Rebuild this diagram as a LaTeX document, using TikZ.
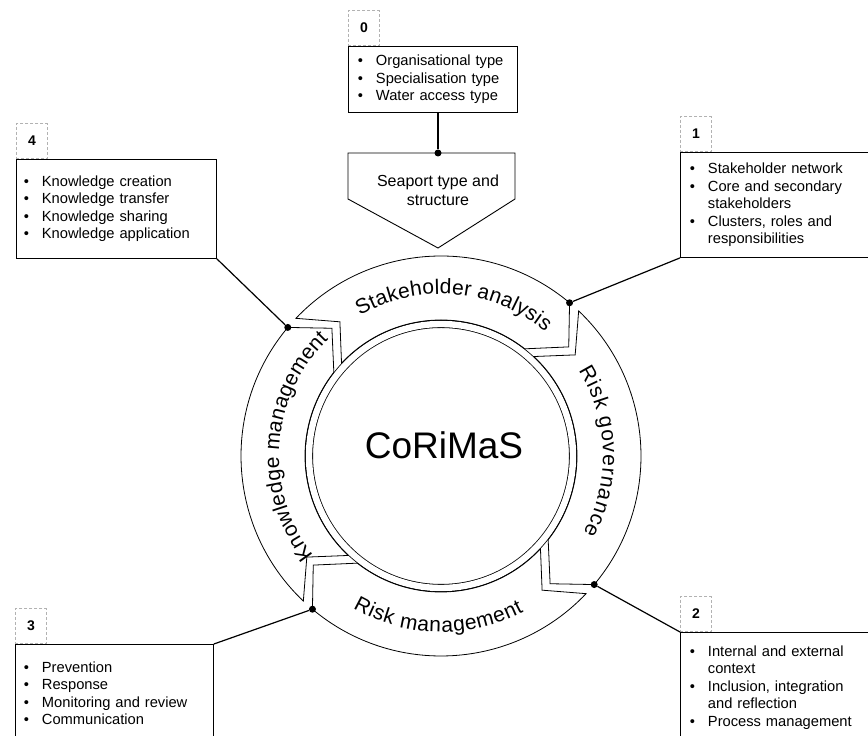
\documentclass[tikz,border=0pt]{standalone}
\usepackage{fontspec}
\setmainfont{Liberation Sans}
\usetikzlibrary{positioning,decorations.text}
\newcommand{\bul}{\makebox[18pt][l]{\textbullet}}
\newcommand{\indt}{\hspace*{18pt}}
\begin{document}
\begin{tikzpicture}[x=1pt, y=1pt,
  infobox/.style={draw, line width=0.9pt, rectangle, anchor=north west, align=left, inner ysep=0pt, font=\fontsize{14.7}{17.5}\selectfont},
  numbox/.style={draw=gray!60, dash pattern=on 3pt off 2pt, line width=0.8pt, minimum width=31pt, minimum height=35pt, inner sep=0pt, font=\fontsize{14}{14}\selectfont\bfseries},
  dotnode/.style={circle, fill=black, inner sep=0pt, minimum size=7pt},
  link/.style={line width=1.2pt},
  ring/.style={line width=0.8pt},
  ringtext/.style={decorate, decoration={text along path, text align=fit to path, text={|\fontsize{21}{21}\selectfont|#1}}}]
  \useasboundingbox (0,0) rectangle (868,736);
  \clip (0,0) rectangle (868,736);
  \coordinate (ctr) at (441,280);
  % Boxes
  \node[infobox, text width=150pt, inner xsep=9.5pt, minimum height=66pt] at (348,690) (box0) {\bul Organisational type\\ \bul Specialisation type\\ \bul Water access type};
  \node[infobox, text width=181pt, inner xsep=9.5pt, minimum height=105pt] at (680,584) (box1) {\bul Stakeholder network\\ \bul Core and secondary\\ \indt stakeholders\\ \bul Clusters, roles and\\ \indt responsibilities};
  \node[infobox, text width=181pt, inner xsep=9.5pt, minimum height=110pt] at (680,104) (box2) {\bul Internal and external\\ \indt context\\ \bul Inclusion, integration\\ \indt and reflection\\ \bul Process management};
  \node[infobox, text width=181pt, inner xsep=8.5pt, minimum height=98pt] at (15,92) (box3) {\bul Prevention\\ \bul Response\\ \bul Monitoring and review\\ \bul Communication};
  \node[infobox, text width=185pt, inner xsep=7.5pt, minimum height=99pt] at (16,577) (box4) {\bul Knowledge creation\\ \bul Knowledge transfer\\ \bul Knowledge sharing\\ \bul Knowledge application};
  % Numbers
  \node[numbox, above right=0pt and 0pt of box0.north west] (num0) {0};
  \node[numbox, above right=0pt and 0pt of box1.north west] (num1) {1};
  \node[numbox, above right=0pt and 0pt of box2.north west] (num2) {2};
  \node[numbox, above right=0pt and 0pt of box3.north west] (num3) {3};
  \node[numbox, above right=0pt and 0pt of box4.north west] (num4) {4};
  % Seaport
  \draw[line width=0.9pt] (348,583) -- (515,583) -- (515,537) -- (438,488) -- (348,537) -- cycle;
  \node[align=center, font=\fontsize{16}{19}\selectfont] at (438,546) (seaport) {Seaport type and\\structure};
  % Ring
  \draw[ring, double, double distance=6.4pt] (ctr) circle[radius=132];
  \foreach \t/\h in {136.5/50, 46.5/-40, -43.5/-130, -133.5/-220}
    \draw[ring] ([shift={(\t:200)}]ctr) arc[start angle=\t, end angle=\h, radius=200]
      -- ([shift={({\h-9.5}:168)}]ctr) -- ([shift={({\h+2}:136)}]ctr)
      arc[start angle=\h+2, end angle=\t+0.5, radius=136]
      -- ([shift={({\t-9.5}:168)}]ctr) -- cycle;
  \node[font=\fontsize{37}{40}\selectfont] at (444,291) (core) {CoRiMaS};
  \path[ringtext={Stakeholder analysis}] ([shift={(120:162)}]ctr) arc[start angle=120, end angle=50, radius=162];
  \path[ringtext={Risk governance}] ([shift={(32:162)}]ctr) arc[start angle=32, end angle=-28.5, radius=162];
  \path[ringtext={Risk management}] ([shift={(-120:176)}]ctr) arc[start angle=-120, end angle=-62, radius=176];
  \path[ringtext={Knowledge management}] ([shift={(218:162)}]ctr) arc[start angle=218, end angle=134, radius=162];
  % Dots
  \node[dotnode] at (438,583) (dot0) {};
  \node[dotnode] at ([shift={(50:200)}]ctr) (dot1) {};
  \node[dotnode] at ([shift={(-40:200)}]ctr) (dot2) {};
  \node[dotnode] at ([shift={(-130:200)}]ctr) (dot3) {};
  \node[dotnode] at ([shift={(140:200)}]ctr) (dot4) {};
  % Lines
  \draw[link] (box0.south -| dot0) -- (dot0);
  \draw[link] (box1.south west) -- (dot1);
  \draw[link] (box2.north west) -- (dot2);
  \draw[link] (box3.north east) -- (dot3);
  \draw[link] (box4.south east) -- (dot4);
\end{tikzpicture}
\end{document}
